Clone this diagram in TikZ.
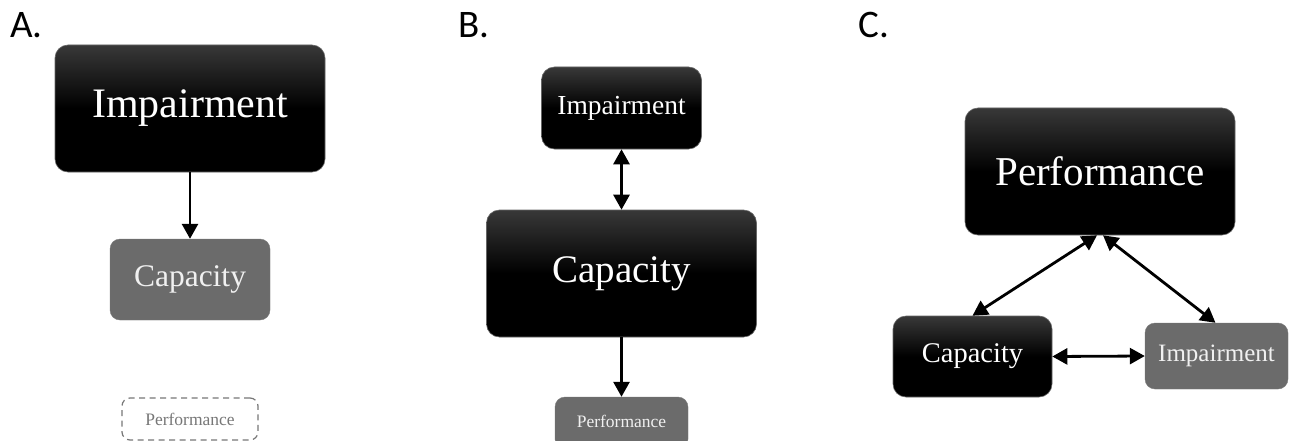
\documentclass[tikz,border=0pt]{standalone}
\usepackage{fontspec}
\setmainfont{Liberation Serif}
\newfontfamily\labfont{Carlito}
\usetikzlibrary{arrows.meta,calc}
\definecolor{boxgray}{HTML}{6B6B6B}
\definecolor{txtgray}{HTML}{777777}
\tikzset{
  darkbox/.style={rounded corners=13pt, top color=black!78, bottom color=black, middle color=black, shading angle=0, draw=black!60, line width=0.6pt, text=white, inner sep=0pt},
  graybox/.style={rounded corners=10pt, fill=boxgray, draw=boxgray!90, text=white!94!black, inner sep=0pt},
  dashbox/.style={rounded corners=8pt, draw=txtgray, dashed, dash pattern=on 6pt off 4.5pt, line width=1.2pt, text=txtgray, inner sep=0pt},
  conn/.style={line width=2.8pt, -{Triangle[width=16pt,length=15pt]}},
  biconn/.style={line width=2.8pt, {Triangle[width=16pt,length=15pt]}-{Triangle[width=16pt,length=15pt]}},
  panel/.style={anchor=base west, font=\labfont\fontsize{39}{42}\selectfont, inner sep=0pt},
  fs/.style={font=\fontsize{#1}{#1}\selectfont}
}
\begin{document}
\begin{tikzpicture}[x=1pt,y=-1pt]
\clip (0,0) rectangle (1289,441);
\fill[white] (0,0) rectangle (1289,441);
% labels
\node[panel] (la) at (10,38) {A.};
\node[panel] (lb) at (458,38) {B.};
\node[panel] (lc) at (858,38) {C.};
% Panel A
\node[darkbox, minimum width=270pt, minimum height=127pt, fs=42] (aimp) at (190,108.5) {\raisebox{-3pt}{Impairment}};
\node[graybox, minimum width=160pt, minimum height=81pt, fs=31.5] (acap) at (190,279.5) {Capacity};
\node[dashbox, minimum width=136pt, minimum height=42pt, fs=17.5] (aperf) at (190,419) {Performance};
\draw[conn] (aimp.south) -- (acap.north);
% Panel B
\node[darkbox, minimum width=160pt, minimum height=82pt, fs=27.5] (bimp) at (621.5,108) {Impairment};
\node[darkbox, minimum width=270pt, minimum height=127pt, fs=39] (bcap) at (621.5,273.5) {\raisebox{-2pt}{Capacity}};
\node[graybox, minimum width=133pt, minimum height=52pt, fs=17.5, text depth=0pt] (bperf) at (621.5,423) {\raisebox{3pt}{Performance}};
\draw[biconn] (bimp.south) -- (bcap.north);
\draw[conn] (bcap.south) -- (bperf.north);
% Panel C
\node[darkbox, minimum width=270pt, minimum height=127pt, fs=41] (cperf) at (1100,171.5) {Performance};
\node[darkbox, minimum width=159pt, minimum height=81pt, fs=28.5] (ccap) at (972.5,356.5) {Capacity};
\node[graybox, minimum width=143pt, minimum height=66pt, fs=25] (cimp) at (1216.5,356) {Impairment};
\coordinate (cl) at ($(cperf.south)+(-3,0)$);
\coordinate (cr) at ($(cperf.south)+(3,0)$);
\draw[biconn] (cl) -- (ccap.north);
\draw[biconn] (cr) -- ($(cimp.north)+(-1,0)$);
\draw[biconn] (ccap.east) -- (cimp.west);
\end{tikzpicture}
\end{document}
